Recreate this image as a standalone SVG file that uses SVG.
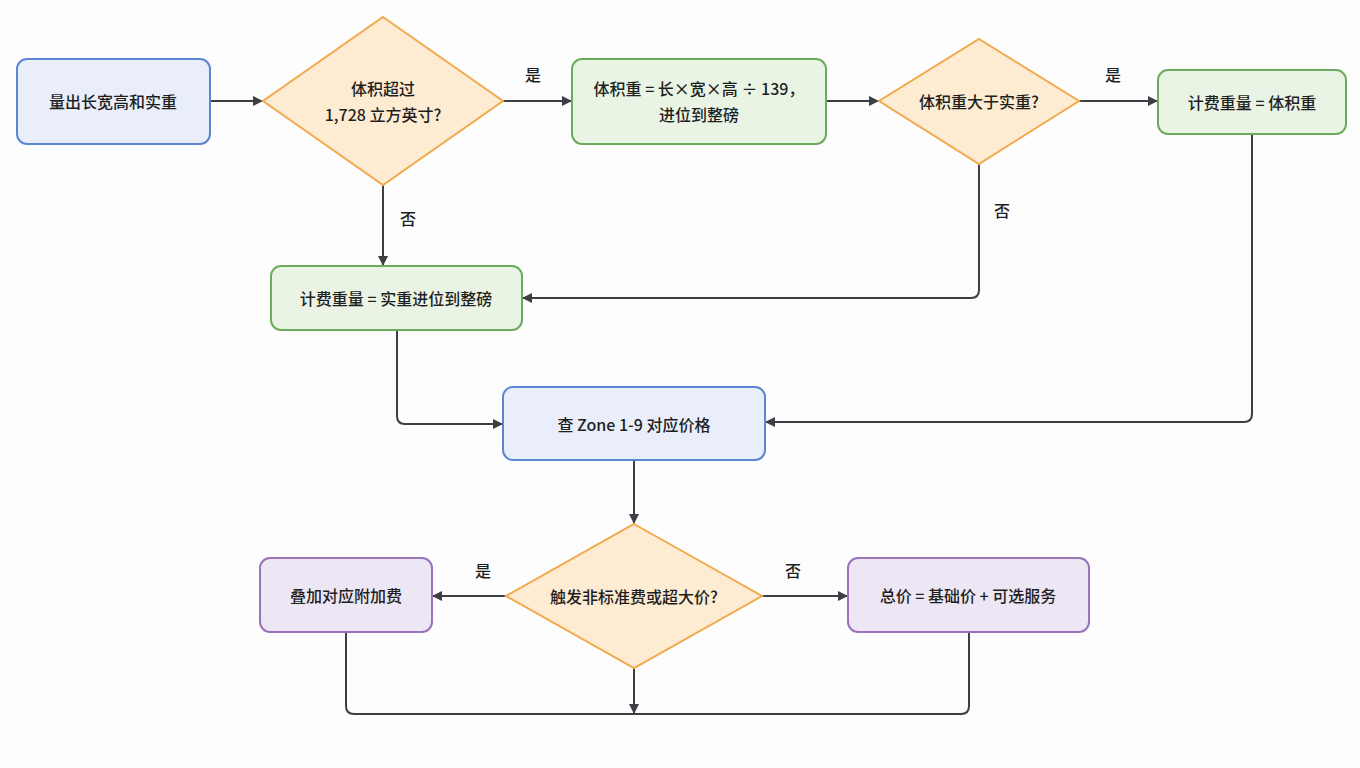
<svg xmlns="http://www.w3.org/2000/svg" width="1360" height="768" viewBox="0 0 1360 768">
<defs>
<marker id="ah" markerWidth="10" markerHeight="10" refX="9" refY="5" orient="auto" markerUnits="userSpaceOnUse"><path d="M0,0 L10,5 L0,10 z" fill="#3d3f45"/></marker>
<style>
text{font-family:"Noto Sans CJK SC","Noto Sans",sans-serif;font-size:16px;font-weight:500;fill:#1f1f1f;text-anchor:middle;dominant-baseline:central}
.blue{fill:#e9eefa;stroke:#5b86d2;stroke-width:2}
.green{fill:#e9f4e5;stroke:#6cab5c;stroke-width:2}
.orange{fill:#fdebd2;stroke:#f2a94c;stroke-width:2}
.purple{fill:#ede6f4;stroke:#9a73b9;stroke-width:2}
.c{fill:none;stroke:#3d3f45;stroke-width:2}
.a{marker-end:url(#ah)}
</style>
</defs>
<rect width="1360" height="768" fill="#fdfdfd"/>
<g id="connectors">
<path class="c a" d="M210,101 H262"/>
<path class="c a" d="M503,101 H571"/>
<path class="c a" d="M383,185 V265"/>
<path class="c a" d="M826,101 H878"/>
<path class="c a" d="M1079,101 H1157"/>
<path class="c a" d="M979,164 V290 Q979,298 971,298 H523"/>
<path class="c a" d="M1252,134 V414 Q1252,422 1244,422 H766"/>
<path class="c a" d="M397,330 V416 Q397,424 405,424 H502"/>
<path class="c a" d="M634,460 V523"/>
<path class="c a" d="M506,596 H433"/>
<path class="c a" d="M762,596 H847"/>
<path class="c" d="M346,632 V706 Q346,714 354,714 H961 Q969,714 969,706 V632"/>
<path class="c a" d="M634,668 V713"/>
<text x="533" y="74">是</text>
<text x="408" y="218">否</text>
<text x="1113" y="74">是</text>
<text x="1002" y="210">否</text>
<text x="483" y="570">是</text>
<text x="793" y="570">否</text>
</g>
<g id="n1"><rect class="blue" x="17" y="59" width="193" height="85" rx="10"/><text x="113" y="101">量出长宽高和实重</text></g>
<g id="d1"><polygon class="orange" points="383,17 503,101 383,185 263,101"/><text x="383" y="88">体积超过</text><text x="383" y="114">1,728 立方英寸?</text></g>
<g id="n2"><rect class="green" x="572" y="59" width="254" height="85" rx="10"/><text x="699" y="88">体积重 = 长×宽×高 ÷ 139，</text><text x="699" y="114">进位到整磅</text></g>
<g id="d2"><polygon class="orange" points="979,39 1079,101 979,164 879,101"/><text x="979" y="101">体积重大于实重?</text></g>
<g id="n3"><rect class="green" x="1158" y="70" width="188" height="64" rx="10"/><text x="1252" y="102">计费重量 = 体积重</text></g>
<g id="n4"><rect class="green" x="271" y="266" width="251" height="64" rx="10"/><text x="396" y="298">计费重量 = 实重进位到整磅</text></g>
<g id="n5"><rect class="blue" x="503" y="387" width="262" height="73" rx="10"/><text x="634" y="424">查 Zone 1-9 对应价格</text></g>
<g id="d3"><polygon class="orange" points="634,524 762,596 634,668 506,596"/><text x="634" y="596">触发非标准费或超大价?</text></g>
<g id="n6"><rect class="purple" x="260" y="558" width="172" height="74" rx="10"/><text x="346" y="595">叠加对应附加费</text></g>
<g id="n7"><rect class="purple" x="848" y="558" width="241" height="74" rx="10"/><text x="968" y="595">总价 = 基础价 + 可选服务</text></g>
</svg>
